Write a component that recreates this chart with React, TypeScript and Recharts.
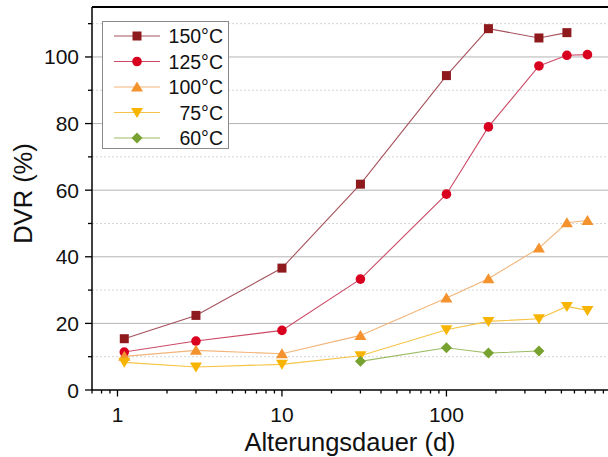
import { Label, Line, LineChart, ReferenceLine, XAxis, YAxis } from "recharts";

const FONT = "'Liberation Sans', Arial, sans-serif";

const DAYS = [1.1, 3, 10, 30, 100, 180, 365, 540, 720];
const T150 = [15.4, 22.4, 36.6, 61.8, 94.4, 108.5, 105.7, 107.3, null];
const T125 = [11.4, 14.7, 17.9, 33.3, 58.8, 79.0, 97.3, 100.5, 100.7];
const T100 = [10.1, 11.9, 10.9, 16.4, 27.6, 33.4, 42.6, 50.2, 50.9];
const T75 = [8.3, 6.9, 7.7, 10.3, 18.1, 20.6, 21.4, 25.1, 23.9];
const T60 = [null, null, null, 8.6, 12.7, 11.1, 11.7, null, null];

const X_TICKS = [
  0.7, 0.8, 0.9, 1, 2, 3, 4, 5, 6, 7, 8, 9, 10, 20, 30, 40, 50, 60, 70, 80, 90,
  100, 200, 300, 400, 500, 600, 700, 800, 900,
];
const Y_TICKS = [0, 10, 20, 30, 40, 50, 60, 70, 80, 90, 100, 110];
const Y_MAJOR = [20, 40, 60, 80, 100];
const Y_MINOR = [10, 30, 50, 70, 90, 110];

type Shape = "square" | "circle" | "up" | "down" | "diamond";

const SERIES: { name: string; values: (number | null)[]; shape: Shape; fill: string; line: string }[] = [
  { name: "150°C", values: T150, shape: "square", fill: "#8e1a1e", line: "#a5525c" },
  { name: "125°C", values: T125, shape: "circle", fill: "#d8001e", line: "#cc4a66" },
  { name: "100°C", values: T100, shape: "up", fill: "#f4922e", line: "#f2b478" },
  { name: "75°C", values: T75, shape: "down", fill: "#f7b400", line: "#f6c444" },
  { name: "60°C", values: T60, shape: "diamond", fill: "#78a230", line: "#9cbb64" },
];

function Marker({ cx, cy, shape, fill }: { cx: number; cy: number; shape: Shape; fill: string }) {
  if (shape === "square") return <rect x={cx - 4.5} y={cy - 4.5} width={9} height={9} fill={fill} />;
  if (shape === "circle") return <circle cx={cx} cy={cy} r={4.8} fill={fill} />;
  if (shape === "up")
    return <polygon points={`${cx - 6},${cy + 4.5} ${cx + 6},${cy + 4.5} ${cx},${cy - 5.5}`} fill={fill} />;
  if (shape === "down")
    return <polygon points={`${cx - 6},${cy - 4.5} ${cx + 6},${cy - 4.5} ${cx},${cy + 5.5}`} fill={fill} />;
  return <polygon points={`${cx},${cy - 5.5} ${cx + 5.5},${cy} ${cx},${cy + 5.5} ${cx - 5.5},${cy}`} fill={fill} />;
}

function XTick({ x, y, payload }: any) {
  const v = payload.value;
  const lg = Math.log10(v);
  const major = Math.abs(lg - Math.round(lg)) < 1e-9;
  return (
    <g>
      <line x1={x} x2={x} y1={y} y2={y + (major ? 6.5 : 3.5)} stroke="#000" strokeWidth={1.3} />
      {major && (
        <text x={x} y={y + 24} textAnchor="middle" dominantBaseline="central" fontSize={21} fontFamily={FONT} fill="#111">
          {v}
        </text>
      )}
    </g>
  );
}

function YTick({ x, y, payload }: any) {
  const v = payload.value;
  const major = v % 20 === 0;
  return (
    <g>
      <line x1={x - (major ? 7 : 4)} x2={x} y1={y} y2={y} stroke="#000" strokeWidth={1.3} />
      {major && (
        <text x={x - 13} y={y} textAnchor="end" dominantBaseline="central" fontSize={21} fontFamily={FONT} fill="#111">
          {v}
        </text>
      )}
    </g>
  );
}

function LegendBox() {
  return (
    <div
      style={{
        position: "absolute",
        left: 102,
        top: 21,
        width: 125,
        height: 126,
        border: "1px solid #8a8a8a",
        background: "#fff",
      }}
    >
      <svg width={125} height={126} overflow="visible" style={{ display: "block" }}>
        {SERIES.map((s, i) => {
          const cy = 14 + i * 25.5;
          return (
            <g key={s.name}>
              <line x1={11} x2={57} y1={cy} y2={cy} stroke={s.line} strokeWidth={1.2} />
              <Marker cx={34} cy={cy} shape={s.shape} fill={s.fill} />
              <text x={120} y={cy} textAnchor="end" dominantBaseline="central" fontSize={19.5} fontFamily={FONT} fill="#111">
                {s.name}
              </text>
            </g>
          );
        })}
      </svg>
    </div>
  );
}

export default function App() {
  return (
    <div style={{ position: "absolute", left: 0, top: 0, width: 608, height: 457, background: "#fff" }}>
      <LineChart width={608} height={457} margin={{ top: 7, right: 0, bottom: 0, left: 0 }}>
        {Y_MINOR.map((v) => (
          <ReferenceLine key={"mn" + v} y={v} stroke="#d6d6d6" strokeDasharray="2 2" strokeWidth={1} />
        ))}
        {Y_MAJOR.map((v) => (
          <ReferenceLine key={"mj" + v} y={v} stroke="#b4b4b4" strokeWidth={1} />
        ))}
        <ReferenceLine y={115} stroke="#000" strokeWidth={2} />
        <XAxis
          dataKey="x"
          type="number"
          scale="log"
          domain={[0.7, 960]}
          allowDataOverflow
          ticks={X_TICKS}
          interval={0}
          tickSize={0}
          tickMargin={0}
          tickLine={false}
          tick={<XTick />}
          height={67}
          axisLine={{ stroke: "#000", strokeWidth: 1.5 }}
        >
          <Label
            content={({ viewBox }: any) => (
              <text
                x={viewBox.x + viewBox.width / 2}
                y={451}
                textAnchor="middle"
                fontSize={25.5}
                fontFamily={FONT}
                fill="#111"
              >
                Alterungsdauer (d)
              </text>
            )}
          />
        </XAxis>
        <YAxis
          type="number"
          domain={[0, 115]}
          allowDataOverflow
          ticks={Y_TICKS}
          interval={0}
          tickSize={0}
          tickMargin={0}
          tickLine={false}
          tick={<YTick />}
          width={92}
          axisLine={{ stroke: "#000", strokeWidth: 1.5 }}
        >
          <Label
            content={({ viewBox }: any) => {
              const cy = viewBox.y + viewBox.height / 2 - 5;
              return (
                <text
                  x={23}
                  y={cy}
                  transform={`rotate(-90 23 ${cy})`}
                  textAnchor="middle"
                  dominantBaseline="central"
                  fontSize={25.5}
                  fontFamily={FONT}
                  fill="#111"
                >
                  DVR (%)
                </text>
              );
            }}
          />
        </YAxis>
        {SERIES.map((s) => (
          <Line
            key={s.name}
            data={DAYS.map((d, i) => ({ x: d, y: s.values[i] })).filter((p) => p.y !== null)}
            dataKey="y"
            stroke={s.line}
            strokeWidth={1.1}
            isAnimationActive={false}
            dot={(p: any) => <Marker key={p.index} cx={p.cx} cy={p.cy} shape={s.shape} fill={s.fill} />}
            activeDot={false}
          />
        ))}
      </LineChart>
      <LegendBox />
    </div>
  );
}
